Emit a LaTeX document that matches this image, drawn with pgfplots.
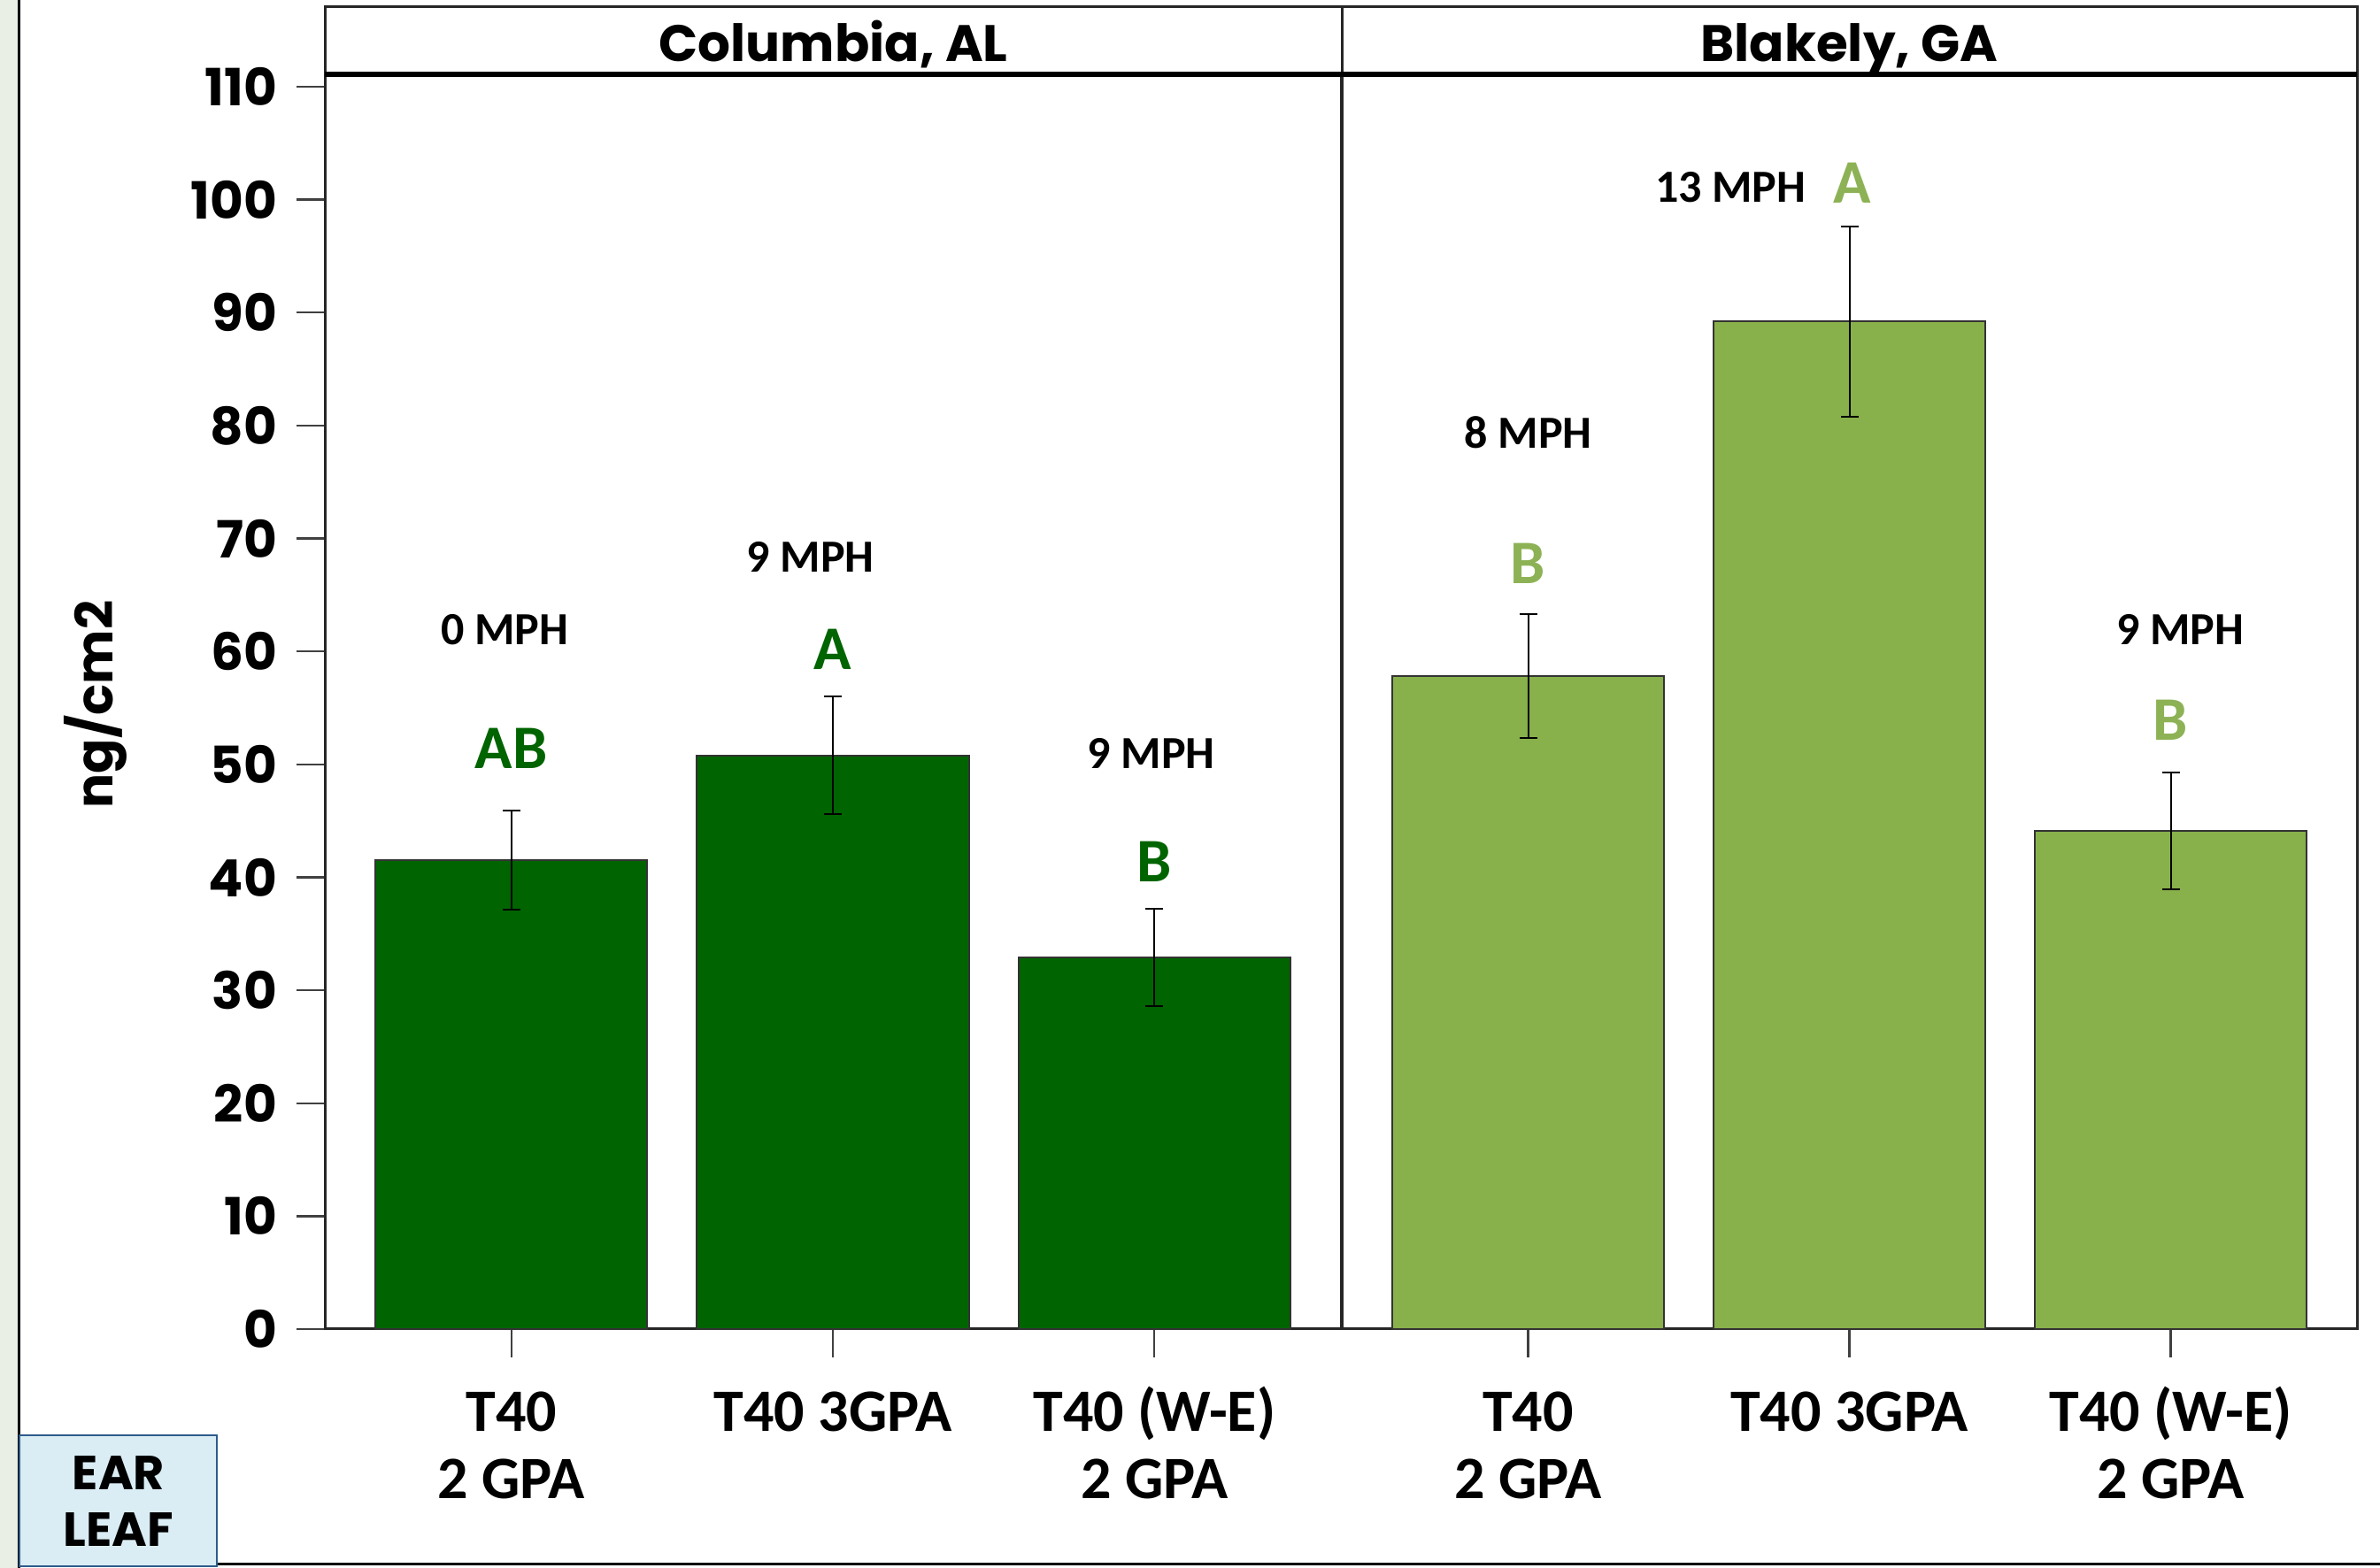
\documentclass[border=0pt]{standalone}
\usepackage{pgfplots}
\pgfplotsset{compat=1.18}
\usepackage{pgfplotstable}
\usepackage{fontspec}
\setmainfont{Carlito}
\newfontfamily\geo{Poppins}

\definecolor{dkgreen}{HTML}{006400}
\definecolor{ltgreen}{HTML}{88B04B}
\definecolor{ltletter}{HTML}{8DB255}
\definecolor{stripcol}{HTML}{E9EFE4}
\definecolor{boxfill}{HTML}{DAEDF4}
\definecolor{boxline}{HTML}{2E5C8A}

% mean residue and standard error per treatment
\pgfplotstableread{
x  y    e
0  41.5 4.4
1  50.8 5.2
2  32.9 4.3
}\columbia
\pgfplotstableread{
x  y    e
0  57.8 5.5
1  89.2 8.4
2  44.1 5.2
}\blakely

\tikzset{
  mph/.style={font=\bfseries\fontsize{13}{15}\selectfont, text=black},
  grade/.style={font=\bfseries\fontsize{17.5}{20}\selectfont},
}

\pgfplotsset{
  panel/.style={
    scale only axis,
    width=287pt, height=354.5pt,
    ybar, bar width=0.846, bar shift=0pt,
    ymin=0, ymax=111.1,
    xmin=-0.58, xmax=2.58,
    xtick={0,1,2},
    xticklabels={{\strut T40\\2 GPA},{\strut T40 3GPA},{\strut T40 (W-E)\\2 GPA}},
    xtick pos=lower, ytick pos=left,
    tick align=outside,
    major tick length=8pt,
    tick style={black!75, line width=0.6pt},
    axis line style={black!85, line width=0.75pt},
    xticklabel style={align=center, font=\bfseries\fontsize{17}{19}\selectfont, yshift=-4pt},
    yticklabel style={font=\geo\bfseries\fontsize{14.5}{17}\selectfont, xshift=-2pt},
    /pgf/number format/assume math mode=true,
    clip=false,
  },
  bars/.style={draw=black!80, line width=0.5pt,
    error bars/.cd, y dir=both, y explicit,
    error bar style={black, line width=0.5pt},
    error mark options={black, rotate=90, mark size=2.5pt, line width=0.5pt}},
}

\begin{document}
\begin{tikzpicture}
\useasboundingbox (0,0) rectangle (672.25pt,443pt);
\fill[white] (0,0) rectangle (672.25pt,443pt);
\fill[stripcol] (0,0) rectangle (5pt,443pt);
\draw[black, line width=0.75pt] (5.25pt,0) -- (5.25pt,443pt);
\draw[black, line width=0.75pt] (5.25pt,1pt) -- (672.25pt,1pt);

% Columbia, AL
\begin{axis}[panel, at={(91.75pt,67.5pt)}, anchor=south west,
  ytick={0,10,...,110}]
\addplot[fill=dkgreen, bars] table[x=x, y=y, y error=e] {\columbia};
\node[mph] at (axis cs:-0.02,61.9) {0 MPH};
\node[grade, text=dkgreen] at (axis cs:0,51.4) {AB};
\node[mph] at (axis cs:0.93,68.4) {9 MPH};
\node[grade, text=dkgreen] at (axis cs:1,60.2) {A};
\node[mph] at (axis cs:1.99,51.0) {9 MPH};
\node[grade, text=dkgreen] at (axis cs:2,41.4) {B};
\end{axis}

% Blakely, GA
\begin{axis}[panel, at={(379pt,67.5pt)}, anchor=south west,
  width=286.75pt, ytick=\empty]
\addplot[fill=ltgreen, bars] table[x=x, y=y, y error=e] {\blakely};
\node[mph] at (axis cs:0,79.4) {8 MPH};
\node[grade, text=ltletter] at (axis cs:0,67.8) {B};
\node[mph] at (axis cs:0.63,101.1) {13 MPH};
\node[grade, text=ltletter] at (axis cs:1.01,101.5) {A};
\node[mph] at (axis cs:2.03,61.9) {9 MPH};
\node[grade, text=ltletter] at (axis cs:2,53.9) {B};
\end{axis}

% panel headers
\draw[black!85, line width=0.75pt] (91.75pt,422pt) rectangle (665.75pt,441pt);
\draw[black!85, line width=0.75pt] (379pt,422pt) -- (379pt,441pt);
\draw[black, line width=1.3pt] (91.75pt,422pt) -- (665.75pt,422pt);
\node[anchor=base, font=\geo\bfseries\fontsize{14.5}{17}\selectfont] at (235.4pt,425.5pt) {Columbia, AL};
\node[anchor=base, font=\geo\bfseries\fontsize{14.5}{17}\selectfont] at (522.4pt,425.5pt) {Blakely, GA};

% y axis title
\node[rotate=90, font=\geo\bfseries\fontsize{14.5}{17}\selectfont] at (27pt,244pt) {ng/cm2};

% tissue tag
\draw[boxline, fill=boxfill, line width=0.6pt] (5.5pt,0.5pt) rectangle (61.25pt,37.5pt);
\node[align=center, font=\geo\bfseries\fontsize{13.5}{16}\selectfont] at (33.5pt,18.75pt) {EAR\\LEAF};
\end{tikzpicture}
\end{document}
